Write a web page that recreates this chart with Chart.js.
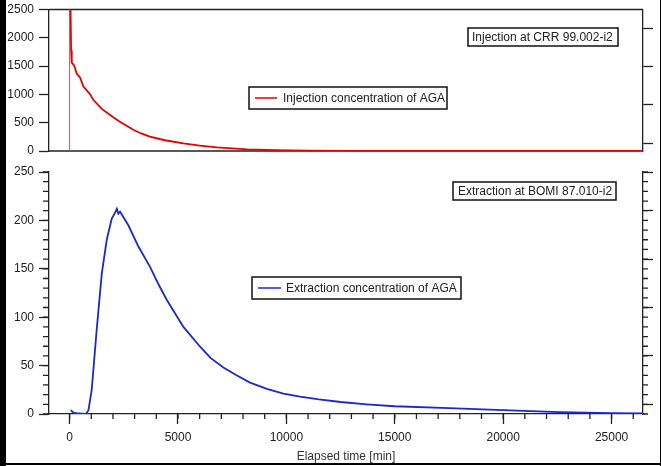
<!DOCTYPE html>
<html>
<head>
<meta charset="utf-8">
<title>AGA injection / extraction</title>
<script src="https://cdn.jsdelivr.net/npm/chart.js@4"></script>
<style>
    body { margin: 0; background: #fff; }
    #wrap { position: relative; width: 661px; height: 466px; overflow: hidden; background: #fff; }
    #topChart { position: absolute; left: 0; top: 0; }
    #botChart { position: absolute; left: 0; top: 160px; }
    .edge { position: absolute; background: #000; }
</style>
</head>
<body>
<div id="wrap">
    <canvas id="topChart" width="661" height="160"></canvas>
    <canvas id="botChart" width="661" height="306"></canvas>
    <div class="edge" style="left:0;top:0;width:6px;height:466px"></div>
    <div class="edge" style="left:0;top:463px;width:661px;height:2px"></div>
    <div class="edge" style="left:660px;top:0;width:1px;height:466px"></div>
</div>
<script>
// --------------------------------- Data ---------------------------------
// Injection concentration at CRR 99.002-i2
const injTime = [0, 0, 40, 70, 100, 210, 330, 480, 640, 950, 1100, 1500, 2000, 2300, 2940, 3300, 3700, 4400, 5250, 6000, 6800, 7500, 8200, 9500, 11000, 13000, 16000, 20000, 26450];
const injConc = [0, 3000, 2600, 1780, 1560, 1510, 1370, 1300, 1140, 1000, 900, 740, 600, 520, 375, 310, 255, 190, 135, 95, 65, 45, 30, 15, 6, 2, 0, 0, 0];

// Extraction concentration at BOMI 87.010-i2
const extTime = [55, 175, 400, 760, 870, 1020, 1250, 1485, 1715, 1945, 2100, 2180, 2250, 2330, 2710, 3175, 3710, 4100, 4480, 5250, 6020, 6500, 7095, 7700, 8325, 9100, 9860, 10630, 11500, 12500, 13700, 15000, 17500, 20000, 22600, 25000, 26450];
const extConc = [4, 1.3, 0.5, 0, 4, 25, 87, 145, 180, 202, 208, 212, 207, 209, 195, 173, 152, 134, 118, 90, 69.5, 58, 48, 40, 32.4, 26, 21, 17.9, 15, 12.4, 10, 8, 6, 4, 2, 1, 0.5];

// Tick values
const timeTicks = [0, 5000, 10000, 15000, 20000, 25000];
const injTicks = [0, 500, 1000, 1500, 2000, 2500];
const extTicks = [0, 50, 100, 150, 200, 250];
const injRightTicks = [140, 815, 1490, 2165];
const extRightTicks = [10, 60, 110, 160, 210, 250];

const timeMin = -950;
const timeMax = 26450;

const FONT = { family: "'Liberation Sans', Arial, sans-serif", size: 12 };
const INK = "#222";

// Turn two arrays into {x, y} points
function toPoints(xs, ys) {
    return xs.map((x, i) => ({ x: x, y: ys[i] }));
}

function setTicks(values) {
    return (scale) => {
        scale.ticks = values.map((v) => ({ value: v }));
    };
}

// Frame lines, minor ticks and the boxed labels
const panelDecor = {
    id: "panelDecor",
    beforeDatasetsDraw(chart, args, opts) {
        const { ctx, chartArea: a } = chart;
        ctx.save();
        ctx.strokeStyle = INK;
        ctx.lineWidth = 1.3;
        ctx.beginPath();
        if (opts.frameTop) {
            ctx.moveTo(a.left, a.top);
            ctx.lineTo(a.right, a.top);
        }
        if (opts.frameBottom) {
            ctx.moveTo(a.left, a.bottom);
            ctx.lineTo(a.right, a.bottom);
        }
        (opts.minor || []).forEach((m) => {
            const s = chart.scales[m.axis];
            for (let v = Math.ceil(s.min / m.step) * m.step; v <= s.max; v += m.step) {
                const p = s.getPixelForValue(v);
                if (m.side === "left") {
                    ctx.moveTo(s.right - m.len, p);
                    ctx.lineTo(s.right, p);
                } else if (m.side === "right") {
                    ctx.moveTo(s.left, p);
                    ctx.lineTo(s.left + m.len, p);
                } else {
                    ctx.moveTo(p, s.top);
                    ctx.lineTo(p, s.top + m.len);
                }
            }
        });
        ctx.stroke();
        ctx.restore();
    },
    afterDraw(chart, args, opts) {
        const ctx = chart.ctx;
        ctx.save();
        ctx.font = `${FONT.size}px ${FONT.family}`;
        ctx.textBaseline = "middle";
        (opts.boxes || []).forEach((b) => {
            ctx.fillStyle = "#fff";
            ctx.fillRect(b.x, b.y, b.w, b.h);
            ctx.strokeStyle = "#111";
            ctx.lineWidth = 1.5;
            ctx.strokeRect(b.x, b.y, b.w, b.h);
            let text = b.text;
            if (b.dataset != null) {
                // legend entry taken from the dataset itself
                const ds = chart.data.datasets[b.dataset];
                text = ds.label;
                ctx.strokeStyle = ds.borderColor;
                ctx.lineWidth = 1.5;
                ctx.beginPath();
                ctx.moveTo(b.lineX1, b.y + b.h / 2);
                ctx.lineTo(b.lineX2, b.y + b.h / 2);
                ctx.stroke();
            }
            ctx.fillStyle = INK;
            ctx.fillText(text, b.textX, b.y + b.h / 2 + 0.5);
        });
        ctx.restore();
    },
};

// Fixed axis width, and no extra room asked for the end labels
function fixWidth(w) {
    return (scale) => {
        scale.width = w;
        scale.paddingTop = 0;
        scale.paddingBottom = 0;
    };
}

function yAxis(ticks, min, max) {
    return {
        type: "linear",
        position: "left",
        min: min,
        max: max,
        afterBuildTicks: setTicks(ticks),
        afterFit: fixWidth(49),
        border: { display: true, color: INK, width: 1.3 },
        grid: { drawOnChartArea: false, drawTicks: true, tickLength: 10, tickColor: INK, tickWidth: 1.3 },
        ticks: { color: INK, font: FONT, padding: 5, callback: (v) => String(v) },
    };
}

function rightAxis(ticks, min, max) {
    return {
        type: "linear",
        position: "right",
        min: min,
        max: max,
        afterBuildTicks: setTicks(ticks),
        afterFit: fixWidth(18),
        border: { display: true, color: INK, width: 1.3 },
        grid: { drawOnChartArea: false, drawTicks: true, tickLength: 10, tickColor: INK, tickWidth: 1.3 },
        ticks: { display: false },
    };
}

// --------------------------------- Top panel: injection ---------------------------------
new Chart("topChart", {
    type: "line",
    data: {
        datasets: [
            {
                label: "Injection concentration of AGA",
                data: toPoints(injTime, injConc),
                borderColor: "rgb(226,0,0)",
                borderWidth: 1.8,
                pointRadius: 0,
                tension: 0,
                // thin pink marker line at time zero
                segment: {
                    borderWidth: (c) => (c.p0DataIndex === 0 ? 1 : 1.8),
                    borderColor: (c) => (c.p0DataIndex === 0 ? "rgb(214,80,100)" : "rgb(226,0,0)"),
                },
            },
        ],
    },
    options: {
        responsive: false,
        animation: false,
        layout: { padding: { top: 9.5, bottom: 9, left: 0, right: 0 } },
        scales: {
            x: { type: "linear", min: timeMin, max: timeMax, display: false },
            y: yAxis(injTicks, 0, 2500),
            y2: rightAxis(injRightTicks, 0, 2500),
        },
        plugins: {
            legend: { display: false },
            tooltip: { enabled: false },
            panelDecor: {
                frameTop: true,
                frameBottom: true,
                boxes: [
                    { x: 468, y: 28, w: 150, h: 18, text: "Injection at CRR 99.002-i2", textX: 472 },
                    { x: 249, y: 87, w: 198, h: 22, dataset: 0, lineX1: 255, lineX2: 277, textX: 283 },
                ],
            },
        },
    },
    plugins: [panelDecor],
});

// --------------------------------- Bottom panel: extraction ---------------------------------
new Chart("botChart", {
    type: "line",
    data: {
        datasets: [
            {
                label: "Extraction concentration of AGA",
                data: toPoints(extTime, extConc),
                borderColor: "rgb(28,40,200)",
                borderWidth: 1.8,
                pointRadius: 0,
                tension: 0,
            },
        ],
    },
    options: {
        responsive: false,
        animation: false,
        layout: { padding: { top: 12, bottom: 0, left: 0, right: 0 } },
        scales: {
            x: {
                type: "linear",
                min: timeMin,
                max: timeMax,
                afterBuildTicks: setTicks(timeTicks),
                afterFit: (scale) => { scale.height = 52; },
                border: { display: true, color: INK, width: 1.3 },
                grid: { drawOnChartArea: false, drawTicks: true, tickLength: 10, tickColor: INK, tickWidth: 1.3 },
                ticks: { color: INK, font: FONT, padding: 6, maxRotation: 0, callback: (v) => String(v) },
                title: { display: true, text: "Elapsed time [min]", color: "#333", font: FONT, padding: { top: 0, bottom: 2 } },
            },
            y: yAxis(extTicks, 0, 250),
            y2: rightAxis(extRightTicks, 0, 250),
        },
        plugins: {
            legend: { display: false },
            tooltip: { enabled: false },
            panelDecor: {
                minor: [
                    { axis: "y", step: 10, len: 6, side: "left" },
                    { axis: "y2", step: 10, len: 5, side: "right" },
                    { axis: "x", step: 1000, len: 5, side: "bottom" },
                ],
                boxes: [
                    { x: 453, y: 22, w: 163, h: 18, text: "Extraction at BOMI 87.010-i2", textX: 458 },
                    { x: 252, y: 117, w: 209, h: 22, dataset: 0, lineX1: 258, lineX2: 281, textX: 286 },
                ],
            },
        },
    },
    plugins: [panelDecor],
});
</script>
</body>
</html>
